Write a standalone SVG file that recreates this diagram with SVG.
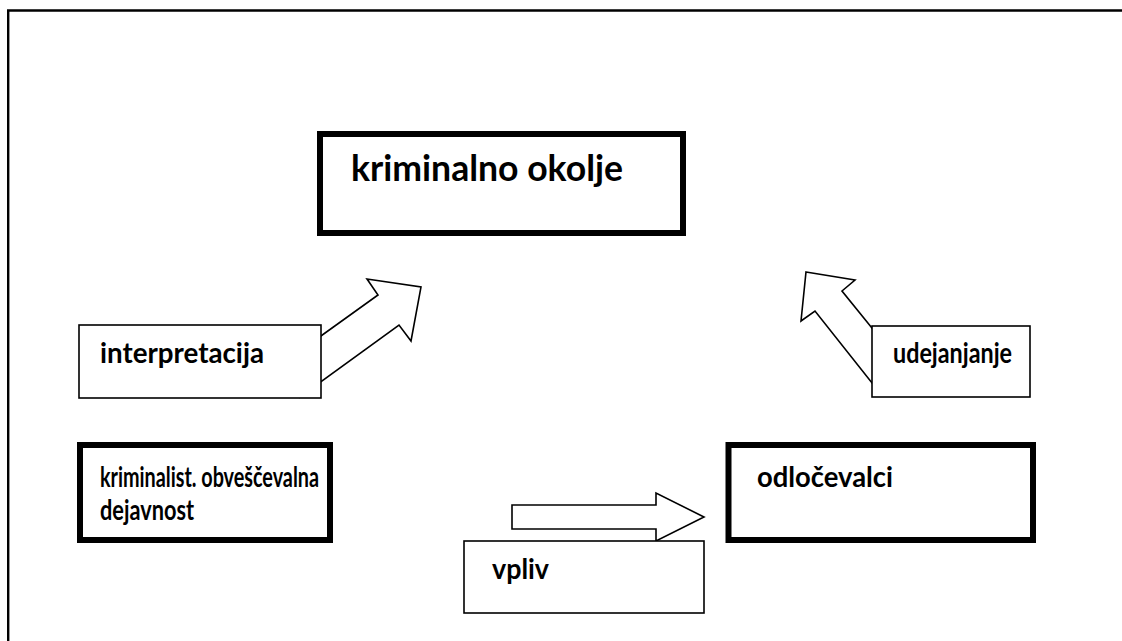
<svg xmlns="http://www.w3.org/2000/svg" width="1122" height="641" viewBox="0 0 1122 641">
<style>
.thin{fill:#fff;stroke:#000;stroke-width:1.6;stroke-linejoin:miter}
.thick{fill:#fff;stroke:#000;stroke-width:6}
.lbl{font-family:Lato,"Open Sans","Liberation Sans",sans-serif;font-weight:bold;font-size:29px;fill:#000}
.big{font-size:36px}
</style>
<rect width="1122" height="641" fill="#fff"/>
<path d="M8.2,641 V10.5 H1122" fill="none" stroke="#000" stroke-width="2.4"/>
<g id="connectors">
<polygon class="thin" points="300,351 378,295 367,279 421,287 411,341 399,325 300,397"/>
<polygon class="thin" points="806,272 855,280 842,291 876,333 876,388 815,311 801,321"/>
<polygon class="thin" points="512,505 656,505 656,493 704,517 656,541 656,529 512,529"/>
</g>
<g id="n-kriminalno-okolje">
<rect class="thick" x="320" y="134" width="363" height="99"/>
<text class="lbl big" x="351" y="181" textLength="272" lengthAdjust="spacingAndGlyphs">kriminalno okolje</text>
</g>
<g id="n-interpretacija">
<rect class="thin" x="79" y="325" width="242" height="73"/>
<text class="lbl" x="100" y="363" textLength="164" lengthAdjust="spacingAndGlyphs">interpretacija</text>
</g>
<g id="n-udejanjanje">
<rect class="thin" x="872" y="326" width="158" height="71"/>
<text class="lbl" x="893" y="363" textLength="119" lengthAdjust="spacingAndGlyphs">udejanjanje</text>
</g>
<g id="n-kriminalist">
<rect class="thick" x="80" y="445" width="250" height="95"/>
<text class="lbl" x="100" y="487" textLength="219" lengthAdjust="spacingAndGlyphs">kriminalist. obveščevalna</text>
<text class="lbl" x="100" y="520" textLength="94" lengthAdjust="spacingAndGlyphs">dejavnost</text>
</g>
<g id="n-odlocevalci">
<rect class="thick" x="728.5" y="445" width="304.5" height="95"/>
<text class="lbl" x="757" y="487" textLength="136" lengthAdjust="spacingAndGlyphs">odločevalci</text>
</g>
<g id="n-vpliv">
<rect class="thin" x="464" y="541" width="240" height="72"/>
<text class="lbl" x="492" y="579" textLength="57" lengthAdjust="spacingAndGlyphs">vpliv</text>
</g>
</svg>
